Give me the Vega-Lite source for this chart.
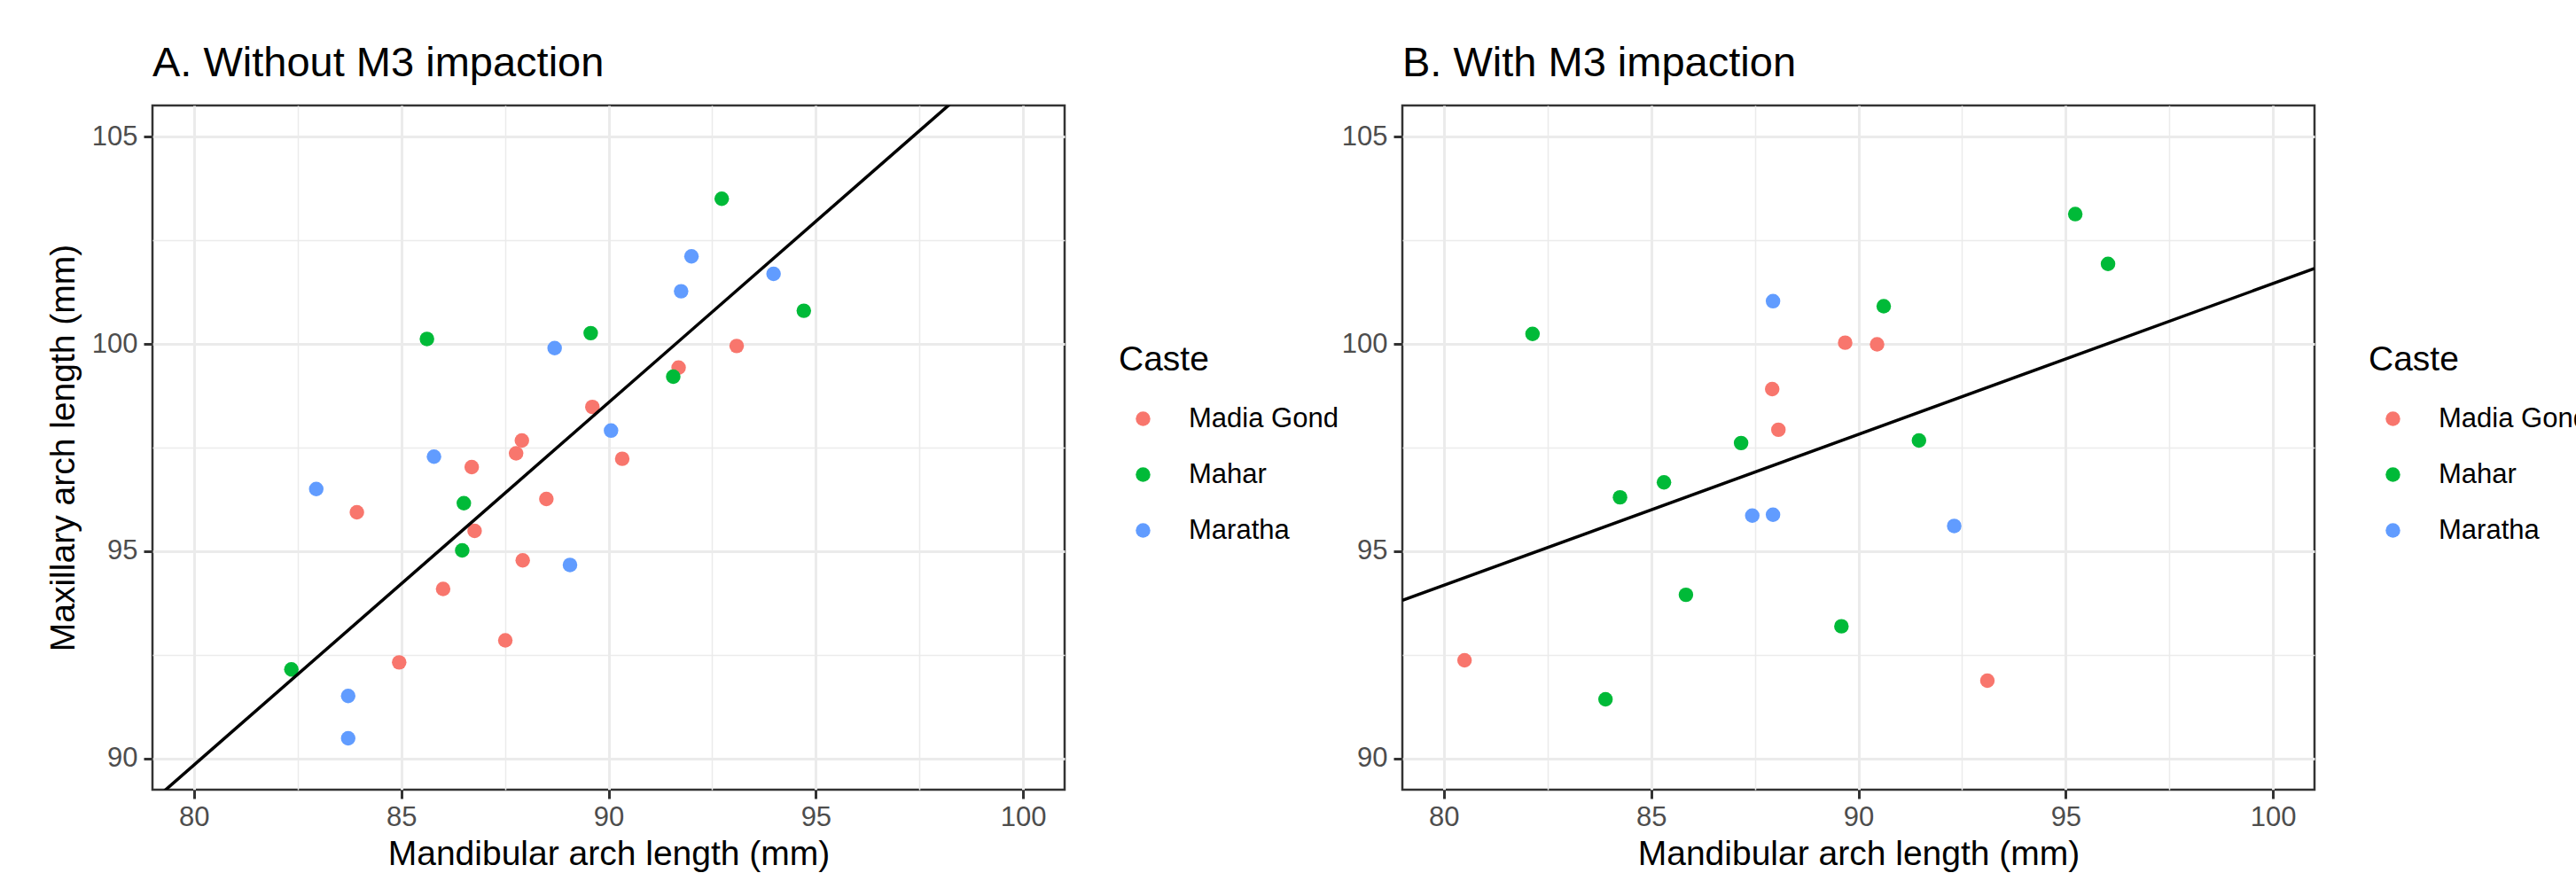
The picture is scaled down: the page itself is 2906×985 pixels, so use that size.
{
  "$schema": "https://vega.github.io/schema/vega-lite/v6.json",
  "padding": {"left": 51, "top": 46, "right": 0, "bottom": 0},
  "background": "white",
  "spacing": 0,
  "resolve": {"legend": {"color": "independent"}},
  "datasets": {
    "a": [
      {"mandibular": 93.09, "maxillary": 99.95, "caste": "Madia Gond"},
      {"mandibular": 91.69, "maxillary": 99.43, "caste": "Madia Gond"},
      {"mandibular": 89.61, "maxillary": 98.48, "caste": "Madia Gond"},
      {"mandibular": 87.91, "maxillary": 97.67, "caste": "Madia Gond"},
      {"mandibular": 87.77, "maxillary": 97.36, "caste": "Madia Gond"},
      {"mandibular": 90.33, "maxillary": 97.23, "caste": "Madia Gond"},
      {"mandibular": 86.70, "maxillary": 97.03, "caste": "Madia Gond"},
      {"mandibular": 88.50, "maxillary": 96.26, "caste": "Madia Gond"},
      {"mandibular": 83.93, "maxillary": 95.94, "caste": "Madia Gond"},
      {"mandibular": 86.77, "maxillary": 95.49, "caste": "Madia Gond"},
      {"mandibular": 87.93, "maxillary": 94.78, "caste": "Madia Gond"},
      {"mandibular": 86.01, "maxillary": 94.09, "caste": "Madia Gond"},
      {"mandibular": 87.51, "maxillary": 92.85, "caste": "Madia Gond"},
      {"mandibular": 84.95, "maxillary": 92.32, "caste": "Madia Gond"},
      {"mandibular": 92.73, "maxillary": 103.50, "caste": "Mahar"},
      {"mandibular": 94.71, "maxillary": 100.80, "caste": "Mahar"},
      {"mandibular": 89.57, "maxillary": 100.26, "caste": "Mahar"},
      {"mandibular": 85.62, "maxillary": 100.12, "caste": "Mahar"},
      {"mandibular": 91.56, "maxillary": 99.21, "caste": "Mahar"},
      {"mandibular": 86.51, "maxillary": 96.16, "caste": "Mahar"},
      {"mandibular": 86.47, "maxillary": 95.02, "caste": "Mahar"},
      {"mandibular": 82.35, "maxillary": 92.15, "caste": "Mahar"},
      {"mandibular": 92.00, "maxillary": 102.11, "caste": "Maratha"},
      {"mandibular": 93.98, "maxillary": 101.69, "caste": "Maratha"},
      {"mandibular": 91.75, "maxillary": 101.27, "caste": "Maratha"},
      {"mandibular": 88.70, "maxillary": 99.90, "caste": "Maratha"},
      {"mandibular": 90.06, "maxillary": 97.91, "caste": "Maratha"},
      {"mandibular": 85.79, "maxillary": 97.28, "caste": "Maratha"},
      {"mandibular": 82.95, "maxillary": 96.50, "caste": "Maratha"},
      {"mandibular": 89.07, "maxillary": 94.67, "caste": "Maratha"},
      {"mandibular": 83.72, "maxillary": 91.51, "caste": "Maratha"},
      {"mandibular": 83.72, "maxillary": 90.49, "caste": "Maratha"}
    ],
    "b": [
      {"mandibular": 89.68, "maxillary": 100.03, "caste": "Madia Gond"},
      {"mandibular": 90.45, "maxillary": 99.99, "caste": "Madia Gond"},
      {"mandibular": 87.92, "maxillary": 98.91, "caste": "Madia Gond"},
      {"mandibular": 88.07, "maxillary": 97.93, "caste": "Madia Gond"},
      {"mandibular": 80.50, "maxillary": 92.37, "caste": "Madia Gond"},
      {"mandibular": 93.11, "maxillary": 91.88, "caste": "Madia Gond"},
      {"mandibular": 95.23, "maxillary": 103.13, "caste": "Mahar"},
      {"mandibular": 96.02, "maxillary": 101.93, "caste": "Mahar"},
      {"mandibular": 90.61, "maxillary": 100.91, "caste": "Mahar"},
      {"mandibular": 82.14, "maxillary": 100.24, "caste": "Mahar"},
      {"mandibular": 91.46, "maxillary": 97.67, "caste": "Mahar"},
      {"mandibular": 87.17, "maxillary": 97.61, "caste": "Mahar"},
      {"mandibular": 85.31, "maxillary": 96.66, "caste": "Mahar"},
      {"mandibular": 84.25, "maxillary": 96.30, "caste": "Mahar"},
      {"mandibular": 85.84, "maxillary": 93.95, "caste": "Mahar"},
      {"mandibular": 89.59, "maxillary": 93.19, "caste": "Mahar"},
      {"mandibular": 83.90, "maxillary": 91.43, "caste": "Mahar"},
      {"mandibular": 87.94, "maxillary": 101.03, "caste": "Maratha"},
      {"mandibular": 87.44, "maxillary": 95.86, "caste": "Maratha"},
      {"mandibular": 87.94, "maxillary": 95.88, "caste": "Maratha"},
      {"mandibular": 92.31, "maxillary": 95.61, "caste": "Maratha"}
    ],
    "lineA": [
      {"mandibular": 79.0, "maxillary": 88.97},
      {"mandibular": 101.0, "maxillary": 108.20}
    ],
    "lineB": [
      {"mandibular": 79.0, "maxillary": 93.815},
      {"mandibular": 101.0, "maxillary": 101.82}
    ]
  },
  "config": {
    "font": "Liberation Sans",
    "view": {"stroke": "#333333", "strokeWidth": 2.5},
    "title": {"font": "Liberation Sans", "fontSize": 47, "fontWeight": "normal", "anchor": "start", "frame": "group", "color": "black", "offset": 23.5},
    "axis": {
      "labelFont": "Liberation Sans", "labelFontSize": 31, "labelColor": "#4D4D4D",
      "labelFlush": false, "labelOverlap": false,
      "tickColor": "#333333", "tickSize": 10, "tickWidth": 3,
      "domain": false, "grid": true, "gridColor": "#EBEBEB",
      "titleFont": "Liberation Sans", "titleFontSize": 39, "titleColor": "black", "titleFontWeight": "normal"
    },
    "legend": {
      "titleFont": "Liberation Sans", "titleFontSize": 39, "titleColor": "black", "titleFontWeight": "normal",
      "labelFont": "Liberation Sans", "labelFontSize": 31, "labelColor": "black", "labelLimit": 500,
      "symbolSize": 270, "symbolType": "circle", "symbolStrokeWidth": 0,
      "rowPadding": 31, "titlePadding": 31, "symbolOffset": 12, "labelOffset": 36, "padding": 0
    }
  },
  "hconcat": [
    {
      "width": 1029,
      "height": 772,
      "title": {"text": "A. Without M3 impaction"},
      "layer": [
        {
          "data": {"name": "a"},
          "mark": {"type": "circle", "size": 270, "opacity": 1, "clip": true},
          "encoding": {
            "x": {"field": "mandibular", "type": "quantitative",
              "scale": {"domain": [79, 101], "nice": false, "zero": false},
              "axis": {"title": "Mandibular arch length (mm)", "values": [80, 82.5, 85, 87.5, 90, 92.5, 95, 97.5, 100],
                "labelExpr": "datum.value % 5 === 0 ? datum.label : ''",
                "tickOpacity": {"condition": {"test": "datum.value % 5 === 0", "value": 1}, "value": 0},
                "gridWidth": {"condition": {"test": "datum.value % 5 === 0", "value": 3}, "value": 1.5},
                "labelPadding": 6, "titlePadding": 7}},
            "y": {"field": "maxillary", "type": "quantitative",
              "scale": {"domain": [89.25, 105.75], "nice": false, "zero": false},
              "axis": {"title": "Maxillary arch length (mm)", "values": [90, 92.5, 95, 97.5, 100, 102.5, 105],
                "labelExpr": "datum.value % 5 === 0 ? datum.label : ''",
                "tickOpacity": {"condition": {"test": "datum.value % 5 === 0", "value": 1}, "value": 0},
                "gridWidth": {"condition": {"test": "datum.value % 5 === 0", "value": 3}, "value": 1.5},
                "labelPadding": 7, "titlePadding": 12}},
            "color": {"field": "caste", "type": "nominal",
              "scale": {"domain": ["Madia Gond", "Mahar", "Maratha"], "range": ["#F8766D", "#00BA38", "#619CFF"]},
              "legend": {"title": "Caste", "orient": "none", "legendX": 1090, "legendY": 268}}
          }
        },
        {
          "data": {"name": "lineA"},
          "mark": {"type": "line", "color": "black", "strokeWidth": 3.5, "clip": true},
          "encoding": {
            "x": {"field": "mandibular", "type": "quantitative"},
            "y": {"field": "maxillary", "type": "quantitative"}
          }
        }
      ]
    },
    {
      "width": 1029,
      "height": 772,
      "title": {"text": "B. With M3 impaction"},
      "layer": [
        {
          "data": {"name": "b"},
          "mark": {"type": "circle", "size": 270, "opacity": 1, "clip": true},
          "encoding": {
            "x": {"field": "mandibular", "type": "quantitative",
              "scale": {"domain": [79, 101], "nice": false, "zero": false},
              "axis": {"title": "Mandibular arch length (mm)", "values": [80, 82.5, 85, 87.5, 90, 92.5, 95, 97.5, 100],
                "labelExpr": "datum.value % 5 === 0 ? datum.label : ''",
                "tickOpacity": {"condition": {"test": "datum.value % 5 === 0", "value": 1}, "value": 0},
                "gridWidth": {"condition": {"test": "datum.value % 5 === 0", "value": 3}, "value": 1.5},
                "labelPadding": 6, "titlePadding": 7}},
            "y": {"field": "maxillary", "type": "quantitative",
              "scale": {"domain": [89.25, 105.75], "nice": false, "zero": false},
              "axis": {"title": null, "values": [90, 92.5, 95, 97.5, 100, 102.5, 105],
                "labelExpr": "datum.value % 5 === 0 ? datum.label : ''",
                "tickOpacity": {"condition": {"test": "datum.value % 5 === 0", "value": 1}, "value": 0},
                "gridWidth": {"condition": {"test": "datum.value % 5 === 0", "value": 3}, "value": 1.5},
                "labelPadding": 7}},
            "color": {"field": "caste", "type": "nominal",
              "scale": {"domain": ["Madia Gond", "Mahar", "Maratha"], "range": ["#F8766D", "#00BA38", "#619CFF"]},
              "legend": {"title": "Caste", "orient": "none", "legendX": 1090, "legendY": 268}}
          }
        },
        {
          "data": {"name": "lineB"},
          "mark": {"type": "line", "color": "black", "strokeWidth": 3.5, "clip": true},
          "encoding": {
            "x": {"field": "mandibular", "type": "quantitative"},
            "y": {"field": "maxillary", "type": "quantitative"}
          }
        }
      ]
    }
  ]
}
